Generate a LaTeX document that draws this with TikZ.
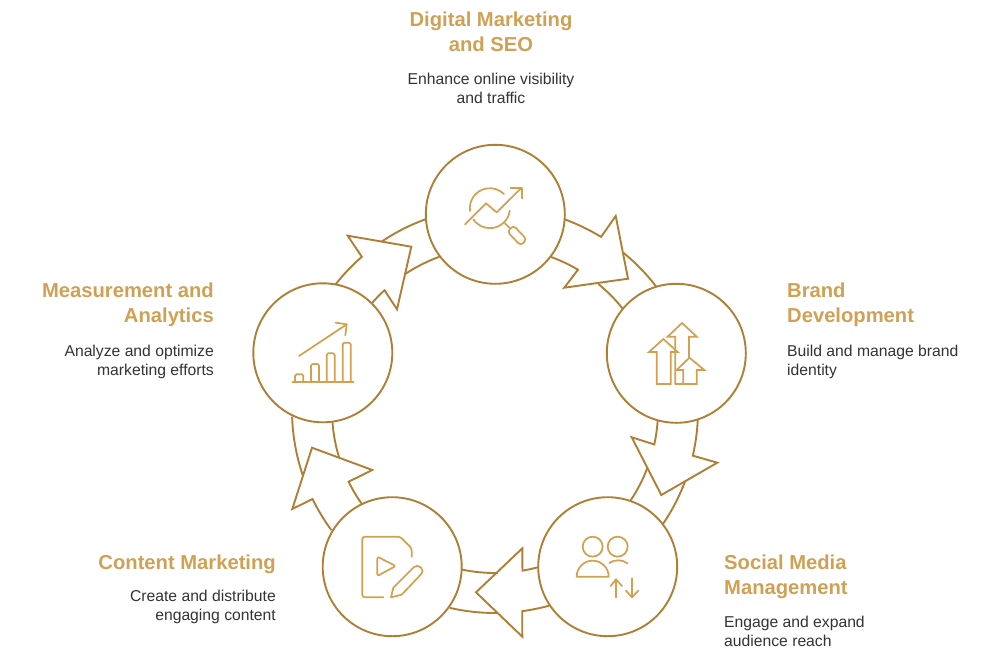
\documentclass[tikz,border=0pt]{standalone}
\usepackage{fontspec}
\setmainfont{Liberation Sans}
\definecolor{ringc}{HTML}{AE7F35}
\definecolor{iconc}{HTML}{D2A04F}
\definecolor{titlec}{HTML}{D0A055}
\definecolor{bodyc}{HTML}{333333}
\tikzset{
  ringline/.style={draw=ringc,line width=1.9pt,line join=miter},
  hub/.style={circle,draw=ringc,line width=1.9pt,fill=white,minimum size=139pt,inner sep=0pt},
  icon/.style={draw=iconc,line width=1.7pt,line join=round,line cap=round},
  ttl/.style={text=titlec,font=\fontsize{20.2}{25}\selectfont\bfseries,inner sep=0pt},
  bdy/.style={text=bodyc,font=\fontsize{15.7}{19}\selectfont,inner sep=0pt}
}
\newcommand\ringtail[3]{\draw[ringline] ([shift={(#2:#1)}]O) arc[start angle=#2,end angle=#3,radius=#1pt];}
\begin{document}
\begin{tikzpicture}[x=1pt,y=1pt]
\useasboundingbox (0,-661) rectangle (1000,0);
\coordinate (O) at (495,-410);
% ring tails
\ringtail{203}{50.9}{37.2}
\ringtail{163}{50.6}{38.5}
\ringtail{203}{-20.5}{-34.8}
\ringtail{163}{-21}{-33.6}
\ringtail{163}{-89}{-101.8}
\ringtail{203}{-89.5}{-102.9}
\ringtail{203}{198.7}{181.9}
\ringtail{163}{196.9}{184.3}
\ringtail{203}{123.8}{110}
\ringtail{163}{123.4}{110}
% arrow heads
\draw[ringline] ([shift={(69.9:203)}]O) arc[start angle=69.9,end angle=58.5,radius=203pt] -- (615.7,-216) -- (628,-278.7) -- (564.3,-287.7) -- ([shift={(59.4:163)}]O) arc[start angle=59.4,end angle=70,radius=163pt];
\draw[ringline] ([shift={(-2.8:203)}]O) arc[start angle=-2.8,end angle=-13,radius=203pt] -- (717.3,-462.7) -- (661.3,-495) -- (631.7,-437.3) -- ([shift={(-12.2:163)}]O) arc[start angle=-12.2,end angle=-3.8,radius=163pt];
\draw[ringline] ([shift={(-74.6:163)}]O) arc[start angle=-74.6,end angle=-80.3,radius=163pt] -- (522.3,-548.3) -- (476,-592.3) -- (522.3,-636.7) -- ([shift={(-82.3:203)}]O) arc[start angle=-82.3,end angle=-74.5,radius=203pt];
\draw[ringline] ([shift={(216.3:203)}]O) arc[start angle=216.3,end angle=206,radius=203pt] -- (292.3,-509) -- (312,-447.7) -- (372.3,-470) -- ([shift={(206.1:163)}]O) arc[start angle=206.1,end angle=215.2,radius=163pt];
\draw[ringline] ([shift={(141.8:203)}]O) arc[start angle=141.8,end angle=131,radius=203pt] -- (347.7,-235.7) -- (411.3,-246.7) -- (397,-309.3) -- ([shift={(132.7:163)}]O) arc[start angle=132.7,end angle=138.8,radius=163pt];
% hubs
\node[hub] (seo) at (495.3,-214.3) {};
\node[hub] (brand) at (676.3,-353.3) {};
\node[hub] (social) at (607.7,-566.7) {};
\node[hub] (content) at (392.2,-566.7) {};
\node[hub] (measure) at (322.8,-352.8) {};
% icons
\begin{scope}[shift={(420,-140)},x=1/3*1pt,y=-1/3*1pt]
\draw[icon] (150,213) arc[start angle=188,end angle=45,radius=20pt];
\draw[icon] (160,238) arc[start angle=214,end angle=353,radius=20pt];
\draw[icon] (135,253) -- (198,190) -- (230,217) -- (303,145);
\draw[icon] (272,143) -- (305,143) -- (305,175);
\draw[icon] (255,250) -- (268,263);
\draw[icon,rounded corners=3.5pt] (280,256) -- (320,298) -- (302,317) -- (262,275) -- cycle;
\end{scope}
\begin{scope}[shift={(600,-280)},x=1/3*1pt,y=-1/3*1pt]
\draw[icon,line join=miter] (170,312) -- (170,216) -- (147,216) -- (190,177) -- (233,216) -- (212,216) -- (212,312) -- cycle;
\draw[icon,line join=miter] (226,312) -- (226,170) -- (203,170) -- (246,129) -- (290,170) -- (267,170) -- (267,232);
\draw[icon,line join=miter] (250,312) -- (250,270) -- (230,270) -- (268,233) -- (313,270) -- (290,270) -- (290,312) -- (226,312);
\end{scope}
\begin{scope}[shift={(320,-490)},x=1/3*1pt,y=-1/3*1pt]
% social
\draw[icon] (818,170) circle[radius=10pt];
\draw[icon] (893,170) circle[radius=10pt];
\draw[icon] (770,260) arc[start angle=180,end angle=0,radius=16pt] -- cycle;
\draw[icon] (868,219) .. controls (882,208) and (908,208) .. (922,220);
\draw[icon] (888,322) -- (888,268);
\draw[icon] (872,288) -- (888,268) -- (906,288);
\draw[icon] (936,265) -- (936,322);
\draw[icon] (918,302) -- (936,322) -- (955,302);
% content
\draw[icon,rounded corners=2.5pt] (190,322) -- (127,322) -- (127,140) -- (240,140) -- (275,175) -- (275,200);
\draw[icon,rounded corners=2pt] (172,200) -- (172,258) -- (227,228) -- cycle;
\draw[icon] (213,322) -- (220,293) -- (282,231) .. controls (294,220) and (318,238) .. (302,254) -- (245,314) -- cycle;
\end{scope}
\begin{scope}[shift={(250,-220)},x=1/3*1pt,y=-1/3*1pt]
\draw[icon] (147,408) -- (290,313);
\draw[icon] (257,308) -- (290,313) -- (286,346);
\draw[icon] (127,487) -- (310,487);
\draw[icon,rounded corners=1.5pt] (135,487) -- (135,463) -- (160,463) -- (160,487);
\draw[icon,rounded corners=1.5pt] (183,487) -- (183,432) -- (207,432) -- (207,487);
\draw[icon,rounded corners=1.5pt] (230,487) -- (230,400) -- (254,400) -- (254,487);
\draw[icon,rounded corners=1.5pt] (278,487) -- (278,368) -- (302,368) -- (302,487);
\end{scope}
% labels
\node[ttl,align=center,anchor=north] (t1) at (491,-12) {Digital Marketing\\and SEO};
\node[bdy,align=center,anchor=north] (b1) at (491,-73) {Enhance online visibility\\and traffic};
\node[ttl,align=left,anchor=north west] (t2) at (787,-283) {Brand\\Development};
\node[bdy,align=left,anchor=north west] (b2) at (787,-345) {Build and manage brand\\identity};
\node[ttl,align=left,anchor=north west] (t3) at (724,-555) {Social Media\\Management};
\node[bdy,align=left,anchor=north west] (b3) at (724,-616) {Engage and expand\\audience reach};
\node[ttl,align=right,anchor=north east] (t4) at (276,-555) {Content Marketing};
\node[bdy,align=right,anchor=north east] (b4) at (276,-590) {Create and distribute\\engaging content};
\node[ttl,align=right,anchor=north east] (t5) at (214,-283) {Measurement and\\Analytics};
\node[bdy,align=right,anchor=north east] (b5) at (214,-345) {Analyze and optimize\\marketing efforts};
\end{tikzpicture}
\end{document}
